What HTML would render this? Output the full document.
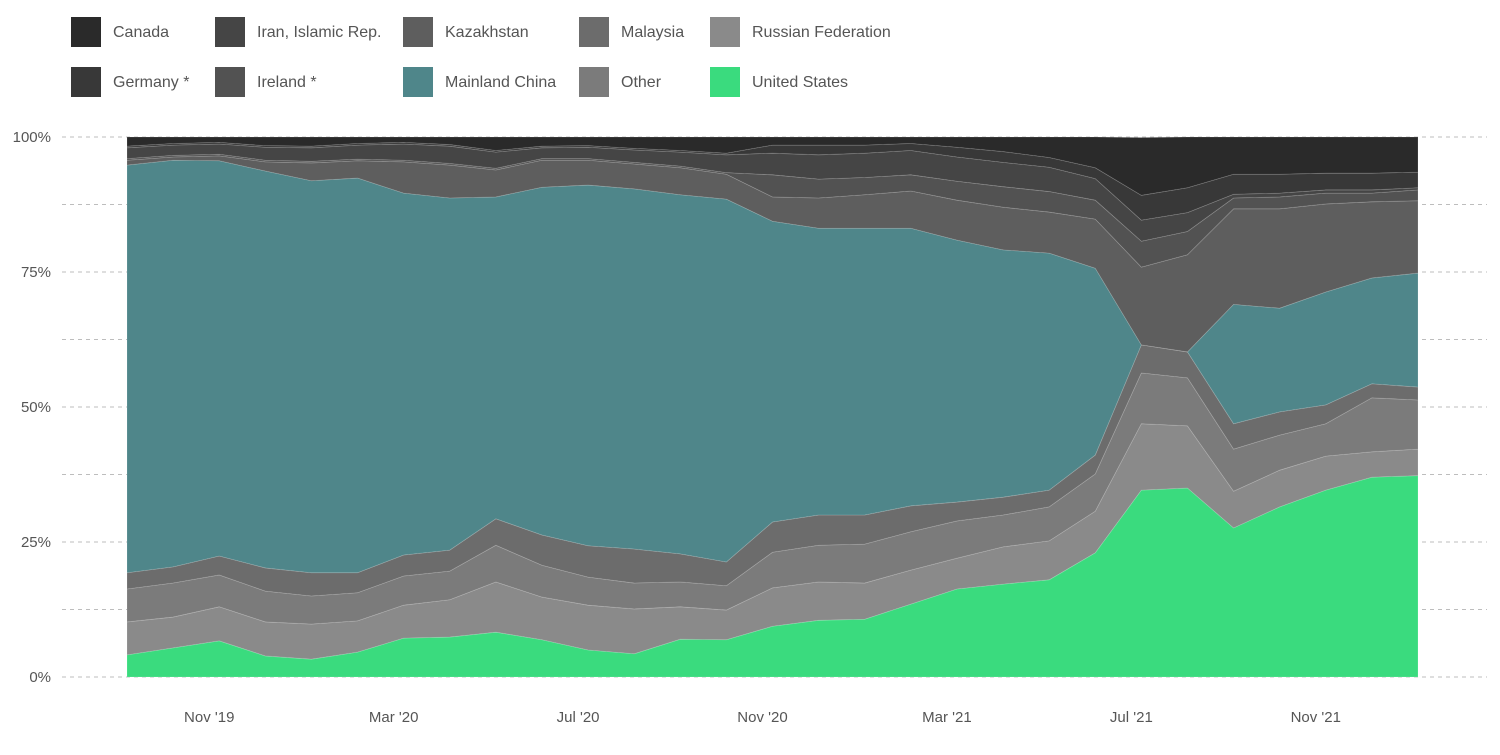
<!DOCTYPE html>
<html><head><meta charset="utf-8">
<style>
body{margin:0;background:#fff;font-family:"Liberation Sans",sans-serif;}
svg text{font-family:"Liberation Sans",sans-serif;}
</style></head>
<body>
<svg id="chart" width="1500" height="750" viewBox="0 0 1500 750" xmlns="http://www.w3.org/2000/svg">
<g id="legend"></g>
<g id="grid"></g>
<g id="areas"></g>
<g id="yaxis"></g>
<g id="xaxis"></g>
</svg>
<script>
// Sep 2019 .. Jan 2022 monthly
const months = 29;
const seriesNames = ["United States","Russian Federation","Other","Malaysia","Mainland China","Kazakhstan","Ireland *","Iran, Islamic Rep.","Germany *","Canada"];
const unitedStates = [4.1,5.4,6.7,3.9,3.3,4.6,7.2,7.4,8.3,6.9,5.0,4.3,7.0,6.9,9.4,10.5,10.7,13.5,16.3,17.2,18.0,23.0,34.6,35.0,27.6,31.5,34.6,37.0,37.3];
const russia = [6.1,5.7,6.3,6.3,6.5,5.8,6.1,6.9,9.3,7.9,8.3,8.3,6.0,5.5,7.1,7.1,6.7,6.3,5.7,6.9,7.2,7.7,12.3,11.5,6.8,6.8,6.3,4.7,4.9];
const other = [6.1,6.3,5.9,5.7,5.2,5.2,5.4,5.3,6.8,5.9,5.2,4.8,4.6,4.5,6.6,6.8,7.2,7.1,6.9,5.9,6.3,6.9,9.4,8.9,7.8,6.5,6.0,10.0,9.1];
const malaysia = [3.0,3.0,3.5,4.3,4.3,3.7,3.9,3.9,4.9,5.6,5.8,6.3,5.2,4.4,5.6,5.6,5.4,4.8,3.5,3.3,3.1,3.5,5.2,4.8,4.7,4.3,3.5,2.6,2.4];
const china = [75.5,75.3,73.2,73.5,72.6,73.1,67.0,65.2,59.6,64.4,66.8,66.7,66.5,67.2,55.7,53.1,53.1,51.4,48.5,45.8,43.9,34.6,0,0,22.1,19.2,20.9,19.6,21.1];
const kazakhstan = [0.9,0.6,0.9,1.7,3.3,3.2,5.8,6.1,5.0,5.0,4.6,4.6,5.0,4.6,4.5,5.6,6.2,6.9,7.4,7.9,7.6,9.1,14.4,18.0,17.7,18.4,16.3,14.1,13.4];
const ireland = [0.3,0.3,0.3,0.3,0.3,0.3,0.3,0.3,0.3,0.3,0.3,0.3,0.3,0.3,4.1,3.5,3.2,3.0,3.5,3.8,3.8,3.5,4.8,4.3,2.0,2.2,2.0,1.6,2.0];
const iran = [2.0,1.9,1.9,2.4,2.5,2.6,3.0,3.2,3.0,2.0,2.1,2.3,2.6,3.3,4.0,4.5,4.5,4.5,4.5,4.5,4.5,4.0,3.9,3.5,0.7,0.7,0.6,0.6,0.4];
const germany = [0.3,0.3,0.3,0.3,0.3,0.3,0.3,0.3,0.3,0.3,0.3,0.3,0.3,0.3,1.5,1.8,1.5,1.3,1.8,2.0,1.8,2.0,4.6,4.6,3.7,3.5,3.1,3.1,2.9];
const canada = [1.7,1.2,1.0,1.6,1.7,1.2,1.0,1.4,2.5,1.7,1.6,2.1,2.5,3.0,1.5,1.5,1.5,1.2,1.9,2.7,3.8,5.7,10.7,9.4,6.9,6.9,6.7,6.7,6.5];
const yTicks = [0,25,50,75,100];
const yTickLabels = ["0%","25%","50%","75%","100%"];
const xTickIdx = [2,6,10,14,18,22,26];
const xTickLabels = ["Nov '19","Mar '20","Jul '20","Nov '20","Mar '21","Jul '21","Nov '21"];

const seriesData=[unitedStates,russia,other,malaysia,china,kazakhstan,ireland,iran,germany,canada];
const colors=["#3adb7e","#8a8a8a","#7b7b7b","#6c6c6c","#4f868a","#5e5e5e","#525252","#454545","#383838","#2a2a2a"];
const slug=["united-states","russian-federation","other","malaysia","mainland-china","kazakhstan","ireland","iran","germany","canada"];
const X0=127,X1=1418,Y0=677,Y1=137;
function xs(i){return X0+(X1-X0)*i/(months-1);}
function ys(v){return Y0-(Y0-Y1)*v/100;}
const NS="http://www.w3.org/2000/svg";
function mk(t,a,p){const e=document.createElementNS(NS,t);for(const k in a)e.setAttribute(k,a[k]);p.appendChild(e);return e;}

// grid
const grid=document.getElementById('grid');
for(let k=0;k<=8;k++){
  const y=ys(k*12.5);
  const l=mk('line',{x1:62,x2:1487,y1:y,y2:y,stroke:'#bdbdbd','stroke-width':1,'stroke-dasharray':'4,4'},grid);
  
  
}
// areas
const areas=document.getElementById('areas');
let base=new Array(months).fill(0);
seriesData.forEach((s,si)=>{
  const top=base.map((b,i)=>b+s[i]);
  let d='M'+xs(0)+','+ys(top[0]);
  for(let i=1;i<months;i++)d+='L'+xs(i)+','+ys(top[i]);
  for(let i=months-1;i>=0;i--)d+='L'+xs(i)+','+ys(base[i]);
  d+='Z';
  const p=mk('path',{d:d,fill:colors[si],stroke:'rgba(255,255,255,0.18)','stroke-width':0.8},areas);
  
  
  base=top;
});
// y axis
const ya=document.getElementById('yaxis');
yTicks.forEach((v,i)=>{
  const t=mk('text',{x:51,y:ys(v)+5,'text-anchor':'end','font-size':15,fill:'#555'},ya);
  t.textContent=yTickLabels[i];
  
  
});
// x axis
const xa=document.getElementById('xaxis');
xTickIdx.forEach((ix,i)=>{
  const t=mk('text',{x:xs(ix)-10,y:722,'text-anchor':'middle','font-size':15,fill:'#555'},xa);
  t.textContent=xTickLabels[i];
  
  
});
// legend
const lg=document.getElementById('legend');
const legendOrder=[9,8,7,6,5,4,3,2,1,0];
const legendLabels=["Canada","Germany *","Iran, Islamic Rep.","Ireland *","Kazakhstan","Mainland China","Malaysia","Other","Russian Federation","United States"];
const colX=[71,215,403,579,710];
legendLabels.forEach((lab,k)=>{
  const col=Math.floor(k/2),row=k%2;
  const x=colX[col],y=row?67:17;
  const g=mk('g',{},lg);
  
  
  const r=mk('rect',{x:x,y:y,width:30,height:30,fill:colors[legendOrder[k]]},g);
  
  
  const t=mk('text',{x:x+42,y:y+20,'font-size':16,fill:'#555'},g);
  t.textContent=lab;
  
  
});
</script>
</body></html>
